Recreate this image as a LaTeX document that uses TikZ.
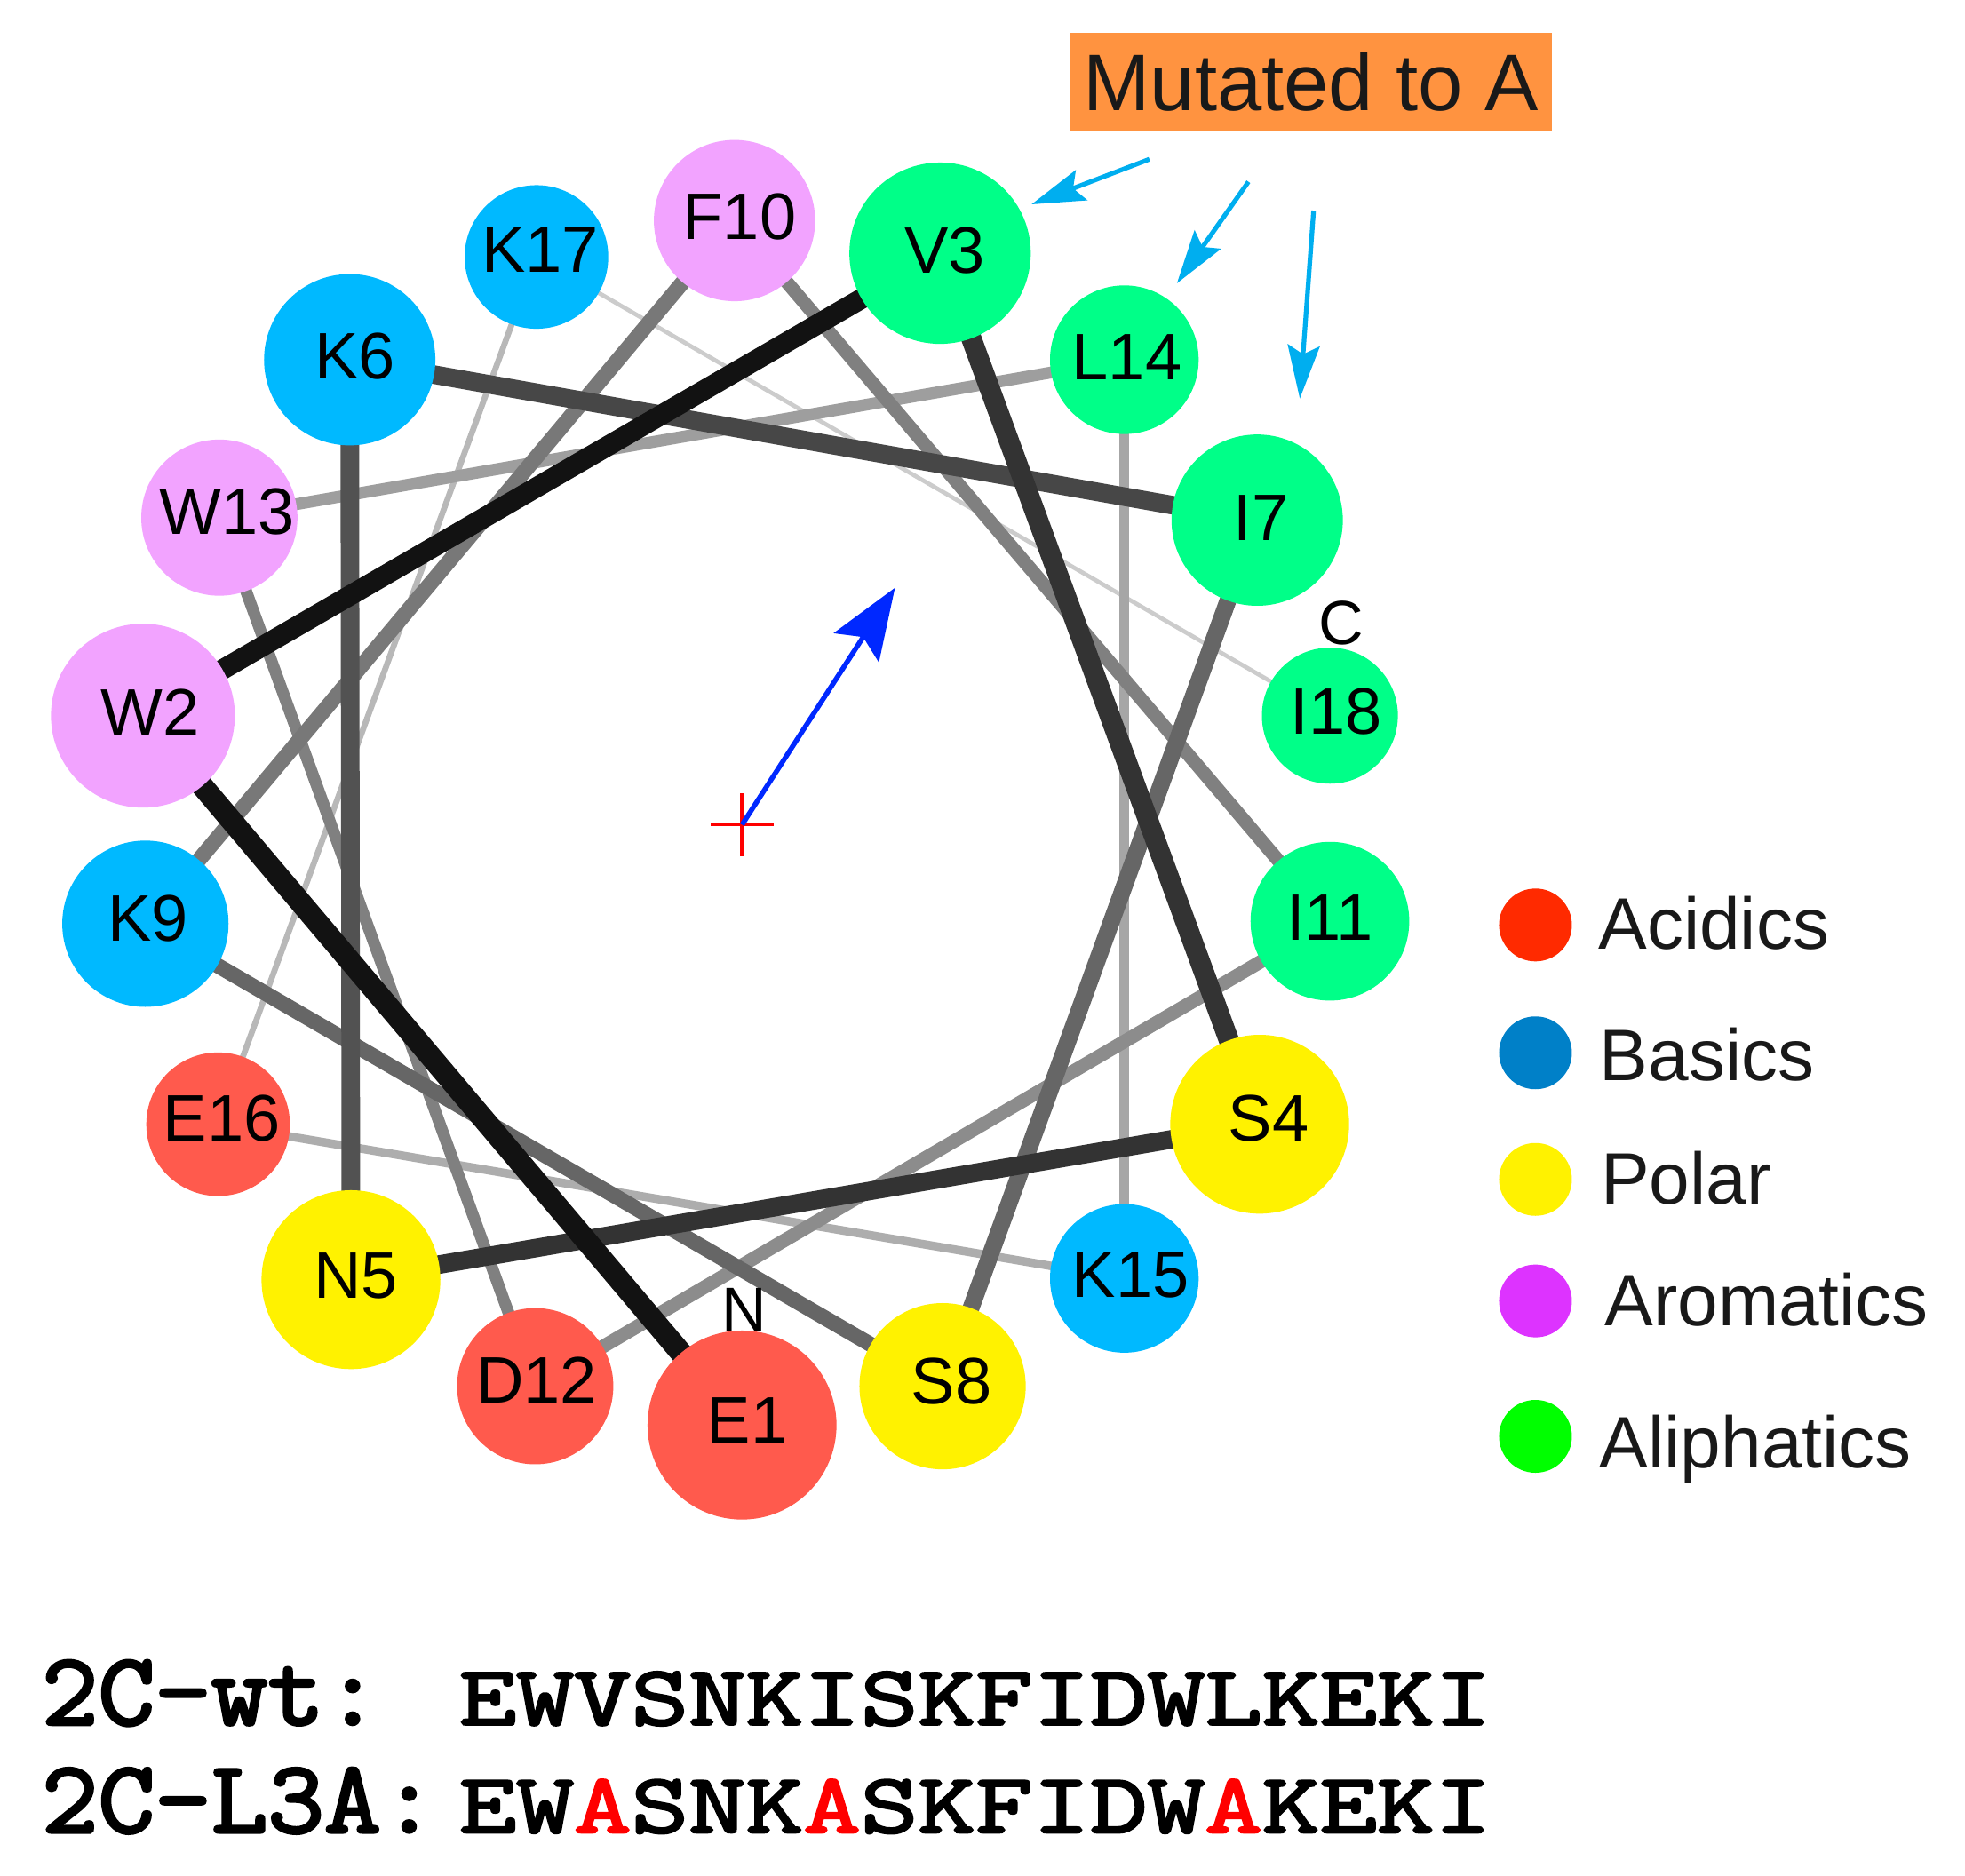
\documentclass[tikz,border=0pt]{standalone}
\usepackage{fontspec}
\setmainfont{Liberation Sans}
\newfontfamily\seqf{Latin Modern Mono}[FakeBold=3,FakeStretch=1.32]
\newfontfamily\labf{Latin Modern Mono}[FakeBold=3,FakeStretch=1.065]
\usetikzlibrary{arrows.meta,backgrounds}
\definecolor{ali}{HTML}{00FF88}
\definecolor{bas}{HTML}{00B9FF}
\definecolor{aro}{HTML}{F2A3FF}
\definecolor{aci}{HTML}{FF5A4D}
\definecolor{pol}{HTML}{FFF200}
\definecolor{cy}{HTML}{00AEEF}
\definecolor{boxor}{HTML}{FF9340}
\tikzset{
  x=0.7055pt,y=-0.7055pt,
  res/.style n args={2}{circle,inner sep=0pt,minimum size=#1*1.418pt,fill=#2},
  lab/.style={inner sep=0pt,font=\fontsize{37pt}{37pt}\selectfont,text=black},
  small/.style={inner sep=0pt,font=\fontsize{35pt}{35pt}\selectfont,text=black},
  bond/.style n args={2}{line width=#1*0.95pt,draw=#2,line cap=butt},
  mut/.style={draw=cy,line width=2.6pt,-{Stealth[length=30pt,width=18pt,inset=5pt]}},
  leg/.style={circle,inner sep=0pt,minimum size=41pt},
  legt/.style={inner sep=0pt,anchor=base west,font=\fontsize{41pt}{41pt}\selectfont,text=black!90},
}
\newcommand{\resid}[6]{%
  \node[res={#3}{#4}] (#1) at (#2) {};
  \node[lab] (#1t) at (#5) {#6};}
\begin{document}
\begin{tikzpicture}
\useasboundingbox (0,0) rectangle (1567.7,1496.8);
\resid{E1}{592,1137}{75}{aci}{596,1133}{E1}
\resid{W2}{114,571}{73}{aro}{120,568}{W2}
\resid{V3}{750,202}{72}{ali}{754,200}{V3}
\resid{S4}{1005,897}{71}{pol}{1012,892}{S4}
\resid{N5}{280,1021}{71}{pol}{284,1018}{N5}
\resid{K6}{279,287}{68}{bas}{283,284}{K6}
\resid{I7}{1003,415}{68}{ali}{1006,413}{I7}
\resid{S8}{752,1106}{66}{pol}{759,1102}{S8}
\resid{K9}{116,737}{66}{bas}{118,733}{K9}
\resid{F10}{586,176}{64}{aro}{590,173}{F10}
\resid{I11}{1061,735}{63}{ali}{1061,732}{I11}
\resid{D12}{427,1106}{62}{aci}{428,1101}{D12}
\resid{W13}{175,413}{62}{aro}{181,408}{W13}
\resid{L14}{897,287}{59}{ali}{899,285}{L14}
\resid{K15}{897,1020}{59}{bas}{902,1017}{K15}
\resid{E16}{174,897}{57}{aci}{177,892}{E16}
\resid{K17}{428,205}{57}{bas}{431,199}{K17}
\resid{I18}{1061,571}{54}{ali}{1066,568}{I18}
\begin{scope}[on background layer]
\fill[white] (0,0) rectangle (1567.7,1496.8);
\draw[bond={2.5}{black!20}] (K17.center) -- (I18.center);
\draw[bond={3.5}{black!28}] (E16.center) -- (K17.center);
\draw[bond={5}{black!32}] (K15.center) -- (E16.center);
\draw[bond={6}{black!35}] (L14.center) -- (K15.center);
\draw[bond={7}{black!38}] (W13.center) -- (L14.center);
\draw[bond={7}{black!50}] (D12.center) -- (W13.center);
\draw[bond={8}{black!45}] (I11.center) -- (D12.center);
\draw[bond={8}{black!50}] (F10.center) -- (I11.center);
\draw[bond={9}{black!53}] (K9.center) -- (F10.center);
\draw[bond={9}{black!60}] (S8.center) -- (K9.center);
\draw[bond={10}{black!60}] (I7.center) -- (S8.center);
\draw[bond={11}{black!72}] (K6.center) -- (I7.center);
\draw[bond={11}{black!68}] (N5.center) -- (K6.center);
\draw[bond={11}{black!80}] (S4.center) -- (N5.center);
\draw[bond={12}{black!80}] (V3.center) -- (S4.center);
\draw[bond={12}{black!93}] (W2.center) -- (V3.center);
\draw[bond={13}{black!93}] (E1.center) -- (W2.center);
\end{scope}
\node[small] (Nlab) at (594,1045) {N};
\node[small] (Clab) at (1070,497) {C};
% centre marker and moment vector
\coordinate (ctr) at (592,658);
\coordinate (crL) at (567,658);
\coordinate (crR) at (617,658);
\coordinate (crT) at (592,633);
\coordinate (crB) at (592,683);
\coordinate (vec) at (714,469);
\draw[red,line width=2pt] (crL) -- (crR) (crT) -- (crB);
\draw[draw={rgb,255:red,0;green,40;blue,255},line width=2.8pt,
  -{Stealth[length=40pt,width=30pt,inset=7pt]}] (ctr) -- (vec);
% mutated box
\node[fill=boxor,inner sep=0pt,minimum width=271pt,minimum height=55pt,
  font=\fontsize{45.2pt}{45.2pt}\selectfont,text=black!90] (box) at (1046,65.5) {Mutated to A};
\coordinate (a1s) at (917,127);\coordinate (a1e) at (823,163);
\coordinate (a2s) at (996,145);\coordinate (a2e) at (939,226);
\coordinate (a3s) at (1048,168);\coordinate (a3e) at (1037,318);
\draw[mut] (a1s) -- (a1e);
\draw[mut] (a2s) -- (a2e);
\draw[mut] (a3s) -- (a3e);
% legend
\node[leg,fill={rgb,255:red,255;green,42;blue,0}] (l1) at (1225,738) {};
\node[leg,fill={rgb,255:red,0;green,128;blue,200}] (l2) at (1225,840) {};
\node[leg,fill=pol] (l3) at (1225,941) {};
\node[leg,fill={rgb,255:red,221;green,51;blue,255}] (l4) at (1225,1038) {};
\node[leg,fill={rgb,255:red,0;green,255;blue,0}] (l5) at (1225,1146) {};
\node[legt] (t1) at (1275,757) {Acidics};
\node[legt] (t2) at (1276,862) {Basics};
\node[legt] (t3) at (1277,961) {Polar};
\node[legt] (t4) at (1280,1058) {Aromatics};
\node[legt] (t5) at (1276,1171) {Aliphatics};
% sequences
\node[inner sep=0pt,anchor=base west,font=\labf\fontsize{58pt}{58pt}\selectfont] (s1l) at (33,1376) {2C-wt:};
\node[inner sep=0pt,anchor=base west,font=\labf\fontsize{58pt}{58pt}\selectfont] (s2l) at (33,1462) {2C-L3A:};
\node[inner sep=0pt,anchor=base west,font=\seqf\fontsize{47.5pt}{48pt}\selectfont] (s1) at (366,1376) {EWVSNKISKFIDWLKEKI};
\node[inner sep=0pt,anchor=base west,font=\seqf\fontsize{47.5pt}{48pt}\selectfont] (s2) at (366,1462) {EW{\color{red}A}SNK{\color{red}A}SKFIDW{\color{red}A}KEKI};
\end{tikzpicture}
\end{document}
